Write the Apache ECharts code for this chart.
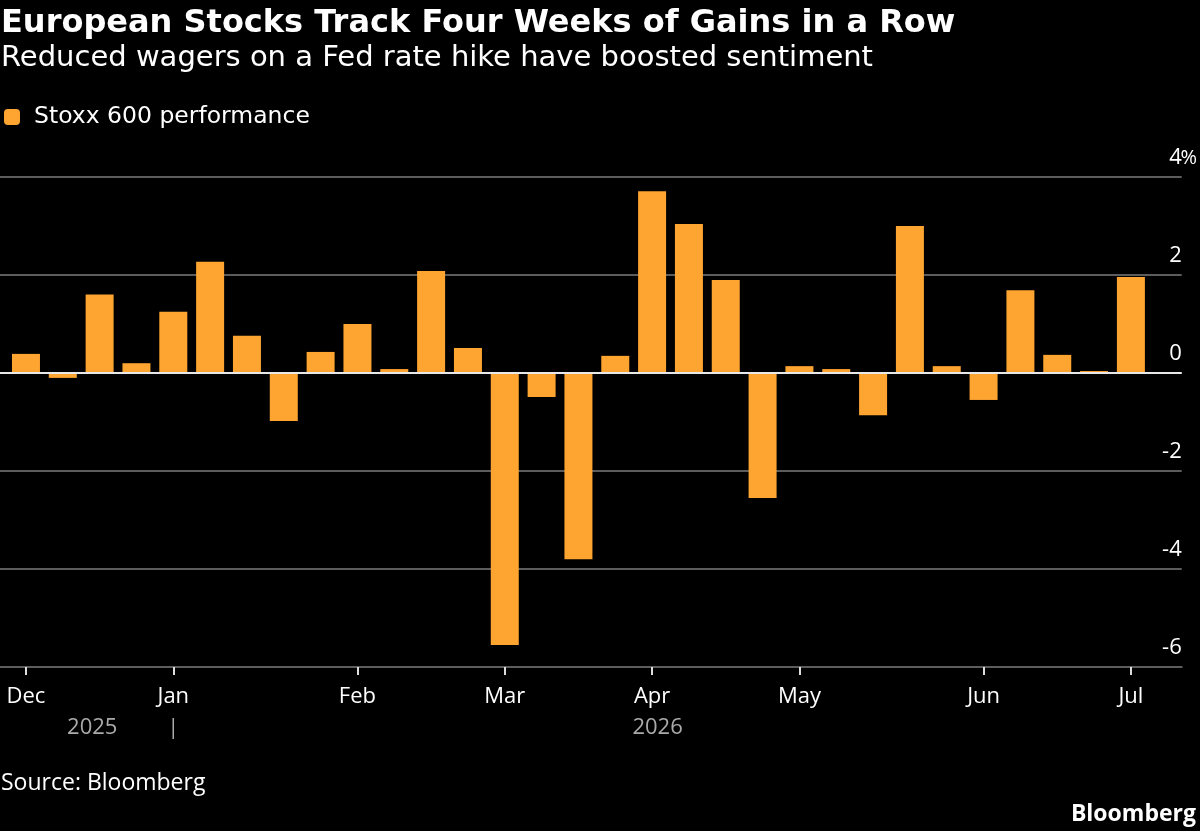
<!DOCTYPE html>
<html>
<head>
<meta charset="utf-8">
<script src="https://cdn.jsdelivr.net/npm/echarts@6/dist/echarts.min.js"></script>
<style>
  html, body { margin: 0; padding: 0; background: #000; }
  #chart { width: 1200px; height: 831px; }
</style>
</head>
<body>
<div id="chart"></div>
<script>
// ---- data ----
var stoxxWeekly = [
  0.39, -0.1, 1.6, 0.2, 1.25, 2.27, 0.76, -0.98, 0.43, 1.0, 0.08,
  2.08, 0.51, -5.55, -0.49, -3.8, 0.35, 3.71, 3.04, 1.9, -2.55,
  0.14, 0.08, -0.86, 3.0, 0.14, -0.55, 1.69, 0.37, 0.04, 1.96
];
var monthTickIdx = [0, 4, 9, 13, 17, 21, 26, 30];
var monthNames   = ["Dec", "Jan", "Feb", "Mar", "Apr", "May", "Jun", "Jul"];
var yearLabelPos = [1.8, 4, 17.15];
var yearLabels   = ["2025", "|", "2026"];

// ---- style ----
var FONT   = "'Open Sans', 'DejaVu Sans', sans-serif";
var HEAD   = "'DejaVu Sans', sans-serif";
var ORANGE = "#fda431";
var GRID_C = "#5c5c5c";
var PCT_W  = 14;   // room for the "%" that hangs past the grid

var chart = echarts.init(document.getElementById("chart"));

var barData = stoxxWeekly.map(function(v, i) { return [i, v]; });

function monthFmt(v) {
  var k = monthTickIdx.indexOf(Math.round(v));
  return k >= 0 ? monthNames[k] : "";
}
function yearFmt(v) {
  for (var i = 0; i < yearLabelPos.length; i++) {
    if (Math.abs(yearLabelPos[i] - v) < 0.01) return yearLabels[i];
  }
  return "";
}

chart.setOption({
  backgroundColor: "#000",
  animation: false,
  textStyle: { fontFamily: FONT },
  title: [
    {
      text: "European Stocks Track Four Weeks of Gains in a Row",
      left: -4, top: 3,
      textStyle: { color: "#fff", fontSize: 32, fontWeight: "bold", fontFamily: HEAD }
    },
    {
      text: "Reduced wagers on a Fed rate hike have boosted sentiment",
      left: -4, top: 39,
      textStyle: { color: "#fff", fontSize: 29, fontWeight: "normal", fontFamily: HEAD }
    },
    {
      text: "Source: Bloomberg",
      left: -4, top: 767,
      textStyle: { color: "#fff", fontSize: 23, fontWeight: "normal", fontFamily: FONT }
    },
    {
      text: "Bloomberg",
      right: -1, top: 798,
      textStyle: { color: "#fff", fontSize: 23, fontWeight: "bold", fontFamily: FONT }
    }
  ],
  legend: {
    left: -1, top: 100,
    icon: "roundRect",
    itemWidth: 16, itemHeight: 16,
    textStyle: { color: "#fff", fontSize: 23.5, fontFamily: HEAD, padding: [0, 0, 0, 9] },
    data: ["Stoxx 600 performance"]
  },
  grid: { left: 0, right: 17, top: 177, bottom: 164, containLabel: false },
  xAxis: [
    {
      type: "value",
      min: -0.705, max: 31.38,
      position: "bottom",
      axisLine: { onZero: false, lineStyle: { color: GRID_C, width: 2 } },
      axisTick: { show: true, customValues: monthTickIdx, length: 8,
                  lineStyle: { color: "#ddd", width: 2 } },
      axisLabel: { customValues: monthTickIdx, formatter: monthFmt, color: "#fff",
                   fontSize: 22, margin: 19, fontFamily: FONT },
      splitLine: { show: false }
    },
    {
      type: "value",
      min: -0.705, max: 31.38,
      position: "bottom",
      offset: 38,
      axisLine: { show: false },
      axisTick: { show: false },
      axisLabel: { customValues: yearLabelPos, formatter: yearFmt, color: "#aaa",
                   fontSize: 22, margin: 12, fontFamily: FONT },
      splitLine: { show: false }
    }
  ],
  yAxis: {
    type: "value",
    position: "right",
    min: -6, max: 4, interval: 2,
    axisLine: { show: false },
    axisTick: { show: false },
    axisLabel: {
      inside: true, margin: -PCT_W,
      color: "#fff", fontSize: 22, fontFamily: FONT,
      verticalAlign: "bottom", padding: [0, 0, 8, 0],
      formatter: function(v) {
        return v === 4 ? "{n|4}{p|%}" : "{n|" + v + "}{p| }";
      },
      rich: {
        n: { color: "#fff", fontSize: 22, fontFamily: FONT },
        p: { color: "#fff", fontSize: 20, fontFamily: FONT, width: PCT_W, align: "left" }
      }
    },
    splitLine: { show: true, lineStyle: { color: GRID_C, width: 2 } }
  },
  series: [
    {
      name: "Stoxx 600 performance",
      type: "bar",
      xAxisIndex: 0,
      data: barData,
      barWidth: 28,
      itemStyle: { color: ORANGE },
      markLine: {
        silent: true,
        symbol: "none",
        label: { show: false },
        lineStyle: { color: "#e8e8e8", width: 2, type: "solid" },
        data: [{ yAxis: 0 }]
      },
      z: 2
    }
  ]
});
</script>
</body>
</html>
